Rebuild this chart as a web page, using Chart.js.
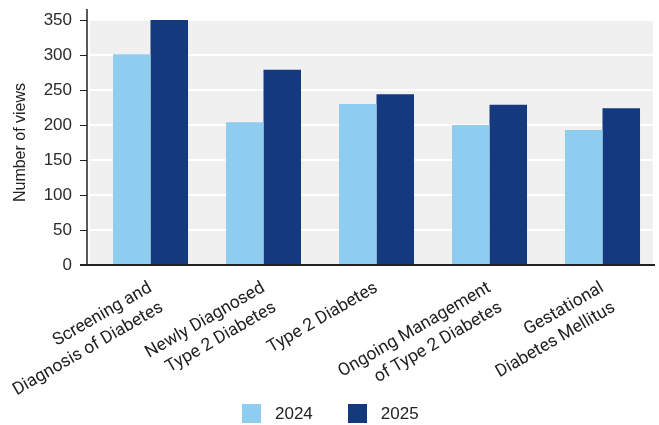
<!DOCTYPE html>
<html lang="en">
<head>
  <meta charset="UTF-8">
  <title>Views by topic, 2024 vs 2025</title>
  <script src="https://cdn.jsdelivr.net/npm/chart.js"></script>
  <style>
    body { margin: 0; background: #fff; }
    #wrap { width: 659px; height: 425px; position: relative; }
    #legend {
      position: absolute; left: 242px; top: 404px;
      display: flex; gap: 35px;
      font-family: 'Liberation Sans', Arial, sans-serif; font-size: 17px; color: #222;
    }
    #legend .item { display: flex; align-items: center; height: 19px; }
    #legend .swatch { width: 19px; height: 19px; margin-right: 14px; }
  </style>
</head>
<body>
  <div id="wrap">
    <canvas id="views-chart"></canvas>
    <div id="legend"></div>
  </div>

  <script>
    // topics (multi-line labels) and page views per year
    const topics = [
      ['Screening and', 'Diagnosis of Diabetes'],
      ['Newly Diagnosed', 'Type 2 Diabetes'],
      'Type 2 Diabetes',
      ['Ongoing Management', 'of Type 2 Diabetes'],
      ['Gestational', 'Diabetes Mellitus']
    ];
    const views2024 = [301, 204, 230, 200, 193];
    const views2025 = [350, 279, 244, 229, 224];
    const yMax = 350;
    const yStep = 50;

    const axisColor = '#222';

    // grey plot panel, white gridlines and the offset axis lines
    const panelPlugin = {
      id: 'panel',
      beforeDatasetsDraw(chart) {
        const ctx = chart.ctx;
        const y = chart.scales.y;
        const top = y.getPixelForValue(yMax);
        const bottom = y.getPixelForValue(0);
        const left = 90, right = 653, axisX = 87;

        ctx.save();
        ctx.fillStyle = '#f0f0f0';
        ctx.fillRect(left, top, right - left, bottom - top);

        ctx.strokeStyle = '#fff';
        ctx.lineWidth = 2;
        y.ticks.forEach(t => {
          const py = y.getPixelForValue(t.value);
          ctx.beginPath();
          ctx.moveTo(left, py);
          ctx.lineTo(right, py);
          ctx.stroke();
        });

        // y axis line with outward tick marks
        ctx.strokeStyle = axisColor;
        ctx.lineWidth = 1.5;
        ctx.beginPath();
        ctx.moveTo(axisX, top - 11);
        ctx.lineTo(axisX, bottom);
        ctx.stroke();
        ctx.lineWidth = 1;
        y.ticks.forEach(t => {
          const py = Math.round(y.getPixelForValue(t.value)) + 0.5;
          ctx.beginPath();
          ctx.moveTo(axisX - 7, py);
          ctx.lineTo(axisX, py);
          ctx.stroke();
        });
        ctx.restore();
      },
      afterDatasetsDraw(chart) {
        const ctx = chart.ctx;
        const bottom = chart.scales.y.getPixelForValue(0);
        ctx.save();
        ctx.strokeStyle = axisColor;
        ctx.lineWidth = 2;
        ctx.beginPath();
        ctx.moveTo(80, bottom);
        ctx.lineTo(655, bottom);
        ctx.stroke();
        ctx.restore();
      }
    };

    const ctx = document.getElementById('views-chart').getContext('2d');
    const chart = new Chart(ctx, {
      type: 'bar',
      data: {
        labels: topics,
        datasets: [
          { label: '2024', data: views2024, backgroundColor: '#8fcdf0' },
          { label: '2025', data: views2025, backgroundColor: '#15397e' }
        ]
      },
      options: {
        responsive: true,
        maintainAspectRatio: false,
        animation: false,
        layout: { padding: { top: 20, left: 0, right: 0, bottom: 0 } },
        datasets: {
          bar: { categoryPercentage: 0.664, barPercentage: 1.0 }
        },
        scales: {
          x: {
            grid: { display: false, drawTicks: false },
            border: { display: false },
            ticks: {
              autoSkip: false,
              minRotation: 30,
              maxRotation: 30,
              padding: 12,
              color: '#222',
              font: { family: 'Roboto', size: 17.5, lineHeight: 1.3 }
            },
            afterFit(scale) {
              scale.height = 160;
              scale.paddingLeft = 0;
              scale.paddingRight = 0;
            }
          },
          y: {
            min: 0,
            max: yMax,
            grid: { display: false, drawTicks: false },
            border: { display: false },
            ticks: {
              stepSize: yStep,
              padding: 22,
              color: '#2b2b2b',
              font: { family: 'Liberation Sans', size: 17 }
            },
            title: {
              display: true,
              text: 'Number of views',
              color: '#222',
              padding: { top: 11, bottom: 0 },
              font: { family: 'Liberation Sans', size: 16 }
            },
            afterFit(scale) {
              scale.width = 94;
              scale.paddingTop = 0;
              scale.paddingBottom = 0;
            }
          }
        },
        plugins: {
          legend: { display: false },
          tooltip: { enabled: false }
        }
      },
      plugins: [panelPlugin]
    });

    // legend built from the datasets
    const legend = document.getElementById('legend');
    chart.data.datasets.forEach(ds => {
      const item = document.createElement('div');
      item.className = 'item';
      const sw = document.createElement('span');
      sw.className = 'swatch';
      sw.style.background = ds.backgroundColor;
      const txt = document.createElement('span');
      txt.textContent = ds.label;
      item.appendChild(sw);
      item.appendChild(txt);
      legend.appendChild(item);
    });
  </script>
</body>
</html>
